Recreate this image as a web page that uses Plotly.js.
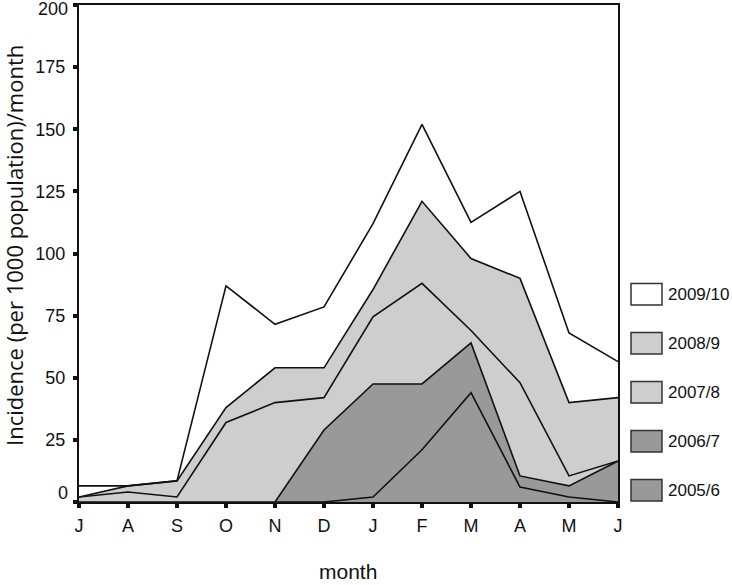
<!DOCTYPE html>
<html>
<head>
<meta charset="utf-8">
<script src="https://cdn.plot.ly/plotly-3.0.1.min.js"></script>
<style>html,body{margin:0;padding:0;background:#fff;}#chart{width:732px;height:585px;}</style>
</head>
<body>
<div id="chart"></div>
<script>
// Month tick labels (July .. June)
var months = ['J','A','S','O','N','D','J','F','M','A','M','J'];
// Season names (bottom of stack first)
var seasons = ['2005/6','2006/7','2007/8','2008/9','2009/10'];
// Monthly incidence per season (stacked, per 1000 population)
var s2005_6  = [0,0,0,0,0,0,2,21,44,6,2,0];
var s2006_7  = [0,0,0,0,0,29,45.5,26.5,20,4.5,4.5,16.5];
var s2007_8  = [2,4,2,32,40,13,27,40.5,5,37.5,4,0];
var s2008_9  = [0,2.5,6.5,6,14,12,11,33,29,42,29.5,25.5];
var s2009_10 = [4.5,0,0,49,17.5,24.5,26.5,31,14.5,35,28,14.5];
var yTicks = [0,25,50,75,100,125,150,175,200];

var seriesValues = [s2005_6, s2006_7, s2007_8, s2008_9, s2009_10];
var fills = ['#999999','#999999','#cecece','#cecece','#ffffff'];
var xIdx = months.map(function(_, i){ return i; });

var traces = seriesValues.map(function(vals, k){
  return {
    x: xIdx, y: vals, name: seasons[k], type: 'scatter', mode: 'lines',
    stackgroup: 'one', line: {color: '#111', width: 1.6, shape: 'linear'},
    fillcolor: fills[k], hoverinfo: 'skip', showlegend: false
  };
});

var FONT = 'Arial';
// custom legend: boxes on the right (pixel layout)
var plotL = 79, plotR = 618, plotT = 5, plotB = 502;
var pw = plotR - plotL, ph = plotB - plotT;
function px(x){ return (x - plotL) / pw; }
function py(y){ return (plotB - y) / ph; }
var shapes = [], annotations = [];
var legendOrder = [4,3,2,1,0];
legendOrder.forEach(function(k, i){
  var top = 283.5 + i * 49;
  shapes.push({type:'rect', xref:'paper', yref:'paper',
    x0: px(631), x1: px(662), y0: py(top + 21.5), y1: py(top),
    fillcolor: fills[k], line:{color:'#333', width:1.5}});
  annotations.push({xref:'paper', yref:'paper', x: px(666), y: py(top + 11),
    xanchor:'left', yanchor:'middle', showarrow:false, text: seasons[k],
    font:{family: FONT, size:17, color:'#111'}});
});

// end tick labels (0 and 200) drawn as annotations, offset as in the original
var yMin = yTicks[0], yMax = yTicks[yTicks.length - 1];
annotations.push({xref:'paper', yref:'y', x: 0, y: yMax, xanchor:'right', yanchor:'middle',
  xshift: -9, yshift: -4, showarrow:false, text: String(yMax),
  font:{family: FONT, size:18, color:'#111'}});
annotations.push({xref:'paper', yref:'y', x: 0, y: yMin, xanchor:'right', yanchor:'middle',
  xshift: -9, yshift: 9, showarrow:false, text: String(yMin),
  font:{family: FONT, size:18, color:'#111'}});
// axis titles
annotations.push({xref:'paper', yref:'paper', x: px(14), y: py(246), xanchor:'center', yanchor:'middle',
  textangle: -90, showarrow:false, text: 'Incidence (per 1000 population)/month',
  font:{family: 'Open Sans, sans-serif', size: 22, color:'#111'}});
annotations.push({xref:'paper', yref:'paper', x: px(348), y: py(571), xanchor:'center', yanchor:'middle',
  showarrow:false, text: 'month',
  font:{family: FONT, size: 21, color:'#111'}});

var layout = {
  width: 732, height: 585,
  margin: {l: plotL, r: 732 - plotR, t: plotT, b: 585 - plotB},
  paper_bgcolor: '#fff', plot_bgcolor: '#fff',
  font: {family: FONT, color: '#111'},
  xaxis: {
    range: [0, 11], tickvals: xIdx, ticktext: months,
    showgrid: false, zeroline: false,
    showline: true, linecolor: '#111', linewidth: 2, mirror: true,
    ticks: 'outside', ticklen: 4, tickwidth: 4, tickcolor: '#111',
    ticklabelstandoff: 2, ticklabeloverflow: 'allow',
    tickfont: {size: 18, family: FONT, color: '#111'}
  },
  yaxis: {
    range: [yMin, yMax], tickvals: yTicks,
    ticktext: yTicks.map(function(v){ return (v === yMin || v === yMax) ? '' : String(v); }),
    showgrid: false, zeroline: false,
    showline: true, linecolor: '#111', linewidth: 2, mirror: true,
    ticks: 'outside', ticklen: 4, tickwidth: 4, tickcolor: '#111',
    ticklabelstandoff: 4, ticklabeloverflow: 'allow',
    tickfont: {size: 18, family: FONT, color: '#111'}
  },
  shapes: shapes,
  annotations: annotations,
  showlegend: false
};

Plotly.newPlot('chart', traces, layout, {staticPlot: true, displayModeBar: false});
</script>
</body>
</html>
